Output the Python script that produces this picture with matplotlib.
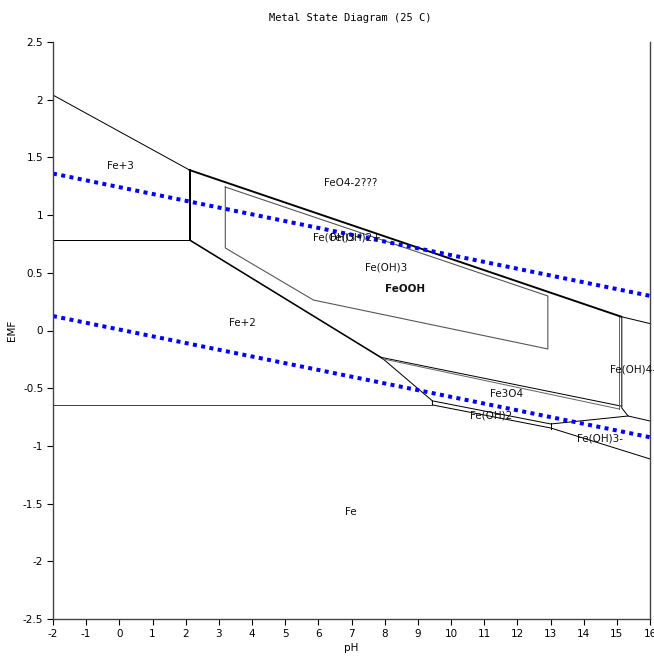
import matplotlib
matplotlib.use("Agg")
import matplotlib.pyplot as plt

plt.rcParams['font.family'] = ['DejaVu Sans']
plt.rcParams['axes.unicode_minus'] = False

# ---- data (pH, EMF) ----
top_left_pH = [-2.0, 2.12]
top_left_E = [2.04, 1.39]

fe3_fe2_pH = [-2.0, 2.12]
fe3_fe2_E = [0.784, 0.784]

fe3_vert_pH = [2.12, 2.12]
fe3_vert_E = [0.784, 1.39]

top_thick_pH = [2.12, 15.13]
top_thick_E = [1.39, 0.12]

top_tail_pH = [15.13, 16.0]
top_tail_E = [0.12, 0.06]

fe2_diag_pH = [2.12, 7.93]
fe2_diag_E = [0.784, -0.241]

fe2_low_pH = [7.93, 9.44, 9.44]
fe2_low_E = [-0.241, -0.61, -0.645]

fe_horiz_pH = [-2.0, 9.44]
fe_horiz_E = [-0.645, -0.645]

quasi_pH = [3.195, 3.195, 5.853, 12.92, 12.92, 3.195]
quasi_E = [1.243, 0.715, 0.264, -0.160, 0.299, 1.243]

fe3o4_up_pH = [7.93, 15.13]
fe3o4_up_E = [-0.235, -0.655]
fe3o4_lo_pH = [7.93, 15.07]
fe3o4_lo_E = [-0.245, -0.68]

feoh4_left_pH = [15.07, 15.07]
feoh4_left_E = [0.12, -0.68]
feoh4_right_pH = [15.15, 15.15, 15.34, 16.0]
feoh4_right_E = [0.12, -0.672, -0.741, -0.784]

feoh2_up_pH = [9.44, 13.01, 15.34]
feoh2_up_E = [-0.61, -0.81, -0.741]
feoh2_lo_pH = [9.44, 13.01, 16.0]
feoh2_lo_E = [-0.645, -0.845, -1.113]
feoh2_tick_pH = [13.01, 13.01]
feoh2_tick_E = [-0.80, -0.855]

o2_pH = [-2.0, 16.0]
o2_E = [1.36, 0.30]
h2_pH = [-2.0, 16.0]
h2_E = [0.125, -0.925]

labels = ["Fe+3", "FeO4-2???", "Fe(OH)3", "Fe+2", "Fe3O4", "Fe(OH)2", "Fe(OH)3-", "Fe"]
label_pH = [0.02, 6.97, 8.03, 3.71, 11.68, 11.2, 14.5, 6.97]
label_E = [1.425, 1.278, 0.55, 0.065, -0.55, -0.735, -0.94, -1.573]

fig = plt.figure(figsize=(6.54, 6.59), dpi=100)
ax = fig.add_axes([53/654, 1-619/659, (650-53)/654, (619-42)/659])

px = 0.72  # one pixel in points
blk = 'black'
gry = '#666666'

ax.plot(top_left_pH, top_left_E, color=blk, lw=1*px)
ax.plot(fe3_fe2_pH, fe3_fe2_E, color=blk, lw=1*px)
ax.plot(fe3_vert_pH, fe3_vert_E, color=blk, lw=2*px)
ax.plot(top_thick_pH, top_thick_E, color=blk, lw=1.9*px)
ax.plot(top_tail_pH, top_tail_E, color=blk, lw=1*px)
ax.plot(fe2_diag_pH, fe2_diag_E, color=blk, lw=1.6*px)
ax.plot(fe2_low_pH, fe2_low_E, color=blk, lw=1*px)
ax.plot(fe_horiz_pH, fe_horiz_E, color='#444444', lw=1*px)
ax.plot(quasi_pH, quasi_E, color='#555555', lw=1.1*px)
ax.plot(fe3o4_up_pH, fe3o4_up_E, color=blk, lw=1*px)
ax.plot(fe3o4_lo_pH, fe3o4_lo_E, color=gry, lw=1*px)
ax.plot(feoh4_left_pH, feoh4_left_E, color=gry, lw=1*px)
ax.plot(feoh4_right_pH, feoh4_right_E, color=blk, lw=1*px)
ax.plot(feoh2_up_pH, feoh2_up_E, color=blk, lw=1*px)
ax.plot(feoh2_lo_pH, feoh2_lo_E, color=blk, lw=1*px)
ax.plot(feoh2_tick_pH, feoh2_tick_E, color=blk, lw=1*px)

ax.plot(o2_pH, o2_E, color='#0000ff', lw=4*px, linestyle=(0, (1, 1.1)), solid_capstyle='butt', dash_capstyle='butt')
ax.plot(h2_pH, h2_E, color='#0000ff', lw=4*px, linestyle=(0, (1, 1.1)), solid_capstyle='butt', dash_capstyle='butt')

for t, xv, yv in zip(labels, label_pH, label_E):
    ax.text(xv, yv, t, ha='center', va='center', fontsize=7.5, color='#111111')

# overlapping labels as in the reference
ax.text(5.85, 0.81, "Fe(OH)3", ha='left', va='center', fontsize=7.5, color='#111111')
ax.text(6.35, 0.81, "Fe(OH)2+", ha='left', va='center', fontsize=7.5, color='#111111')
ax.text(8.6, 0.36, "FeOOH", ha='center', va='center', fontsize=7.5, fontweight='bold', color='#111111')
ax.text(14.79, -0.334, "Fe(OH)4-", ha='left', va='center', fontsize=7.5, color='#111111')

ax.set_xlim(-2, 16)
ax.set_ylim(-2.5, 2.5)
ax.set_xticks(list(range(-2, 17)))
ax.set_yticks([-2.5, -2, -1.5, -1, -0.5, 0, 0.5, 1, 1.5, 2, 2.5])
ax.set_yticklabels(['-2.5', '-2', '-1.5', '-1', '-0.5', '0', '0.5', '1', '1.5', '2', '2.5'])
ax.tick_params(direction='out', length=4, width=0.8, labelsize=7.5, pad=3)
ax.spines['top'].set_visible(False)
for s in ['left', 'bottom', 'right']:
    ax.spines[s].set_color('#444444')
    ax.spines[s].set_linewidth(1)

ax.set_xlabel('pH', fontsize=7.5, labelpad=3)
ax.set_ylabel('EMF', fontsize=7.5, labelpad=4)
fig.text(350/654, 1-18/659, 'Metal State Diagram (25 C)', ha='center', va='center',
         fontsize=7.5, family='DejaVu Sans Mono')

fig.savefig('out.png', dpi=100)
